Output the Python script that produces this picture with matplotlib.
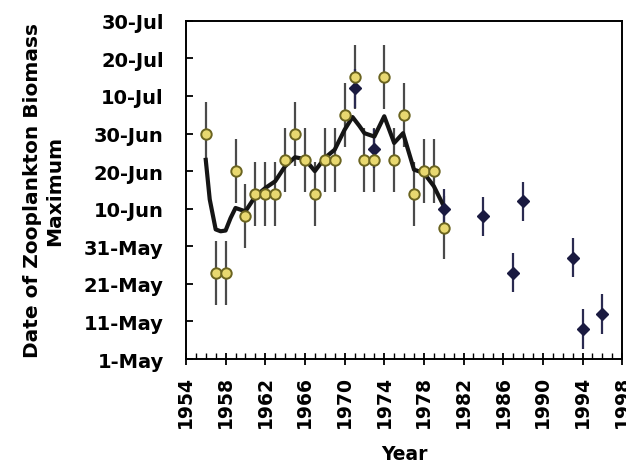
import matplotlib
matplotlib.use("Agg")
import matplotlib.pyplot as plt
from matplotlib.ticker import MultipleLocator

plt.rcParams['font.family'] = ['DejaVu Sans']
plt.rcParams['font.weight'] = 'bold'

# day-of-year values (1-May = 121)
open_years = [1956, 1957, 1958, 1959, 1960, 1961, 1962, 1963, 1964, 1965, 1966, 1967,
              1968, 1969, 1970, 1971, 1972, 1973, 1974, 1975, 1976, 1977, 1978, 1979, 1980]
open_days = [181, 144, 144, 171, 159, 165, 165, 165, 174, 181, 174, 165,
             174, 174, 186, 196, 174, 174, 196, 174, 186, 165, 171, 171, 156]
open_err = 8.5

solid_years = [1971, 1973, 1980, 1984, 1987, 1988, 1993, 1994, 1996]
solid_days = [193, 177, 161, 159, 144, 163, 148, 129, 133]
solid_err = 5.2

curve_years = [1956, 1956.4, 1957, 1957.5, 1958, 1958.5, 1959, 1960, 1961, 1962, 1963,
               1964, 1965, 1966, 1967, 1968, 1969, 1970, 1970.8, 1971.5, 1972, 1973,
               1974, 1975, 1975.9, 1977, 1978, 1979, 1980]
curve_days = [174, 163.5, 155.5, 155, 155.2, 158.5, 161.2, 160.3, 164.3, 166.5, 168.3,
              172.3, 174.7, 174.2, 171, 174.5, 176.7, 182, 185.4, 183, 181.1, 180.2,
              185.6, 178.5, 181.1, 171.4, 170.5, 167, 161.7]

ytick_days = [121, 131, 141, 151, 161, 171, 181, 191, 201, 211]
ytick_labels = ['1-May', '11-May', '21-May', '31-May', '10-Jun', '20-Jun',
                '30-Jun', '10-Jul', '20-Jul', '30-Jul']
xtick_years = list(range(1954, 1999, 4))

fig = plt.figure(figsize=(6.26, 4.64), dpi=100)
ax = fig.add_axes([0.297, 0.224, 0.697, 0.729])

# error bars
ax.errorbar(open_years, open_days, yerr=open_err, fmt='none',
            ecolor='#4a4a4a', elinewidth=1.6, capsize=0, zorder=2)
ax.errorbar(solid_years, solid_days, yerr=solid_err, fmt='none',
            ecolor='#2a2a50', elinewidth=1.6, capsize=0, zorder=2)

# smoothed curve
ax.plot(curve_years, curve_days, color='#151515', linewidth=3, zorder=3)

ax.plot(solid_years, solid_days, linestyle='none', marker='D', markersize=6.5,
        color='#1a1a40', zorder=4)
ax.plot(open_years, open_days, linestyle='none', marker='o', markersize=7.5,
        markerfacecolor='#e8d870', markeredgecolor='#6b6420', markeredgewidth=1.4,
        zorder=5)

ax.set_xlim(1954, 1998)
ax.set_ylim(121, 211)
ax.set_xticks(xtick_years)
ax.set_xticklabels([str(y) for y in xtick_years], rotation=90, fontsize=13.5,
                   fontweight='bold')
ax.xaxis.set_minor_locator(MultipleLocator(1))
ax.set_yticks(ytick_days)
ax.set_yticklabels(ytick_labels, fontsize=14, fontweight='bold')

ax.tick_params(axis='x', which='major', direction='inout', length=9, width=1.3, pad=7)
ax.tick_params(axis='x', which='minor', direction='in', length=4, width=1)
ax.tick_params(axis='y', which='major', direction='in', length=5, width=1.3, pad=16)
ax.tick_params(axis='y', which='minor', left=False)

for s in ax.spines.values():
    s.set_linewidth(1.4)

ax.set_xlabel('Year', fontsize=13.5, fontweight='bold', labelpad=12)
ax.set_ylabel('Date of Zooplankton Biomass\nMaximum', fontsize=14.5,
              fontweight='bold', labelpad=14, linespacing=1.25)

fig.savefig('out.png', dpi=100)
